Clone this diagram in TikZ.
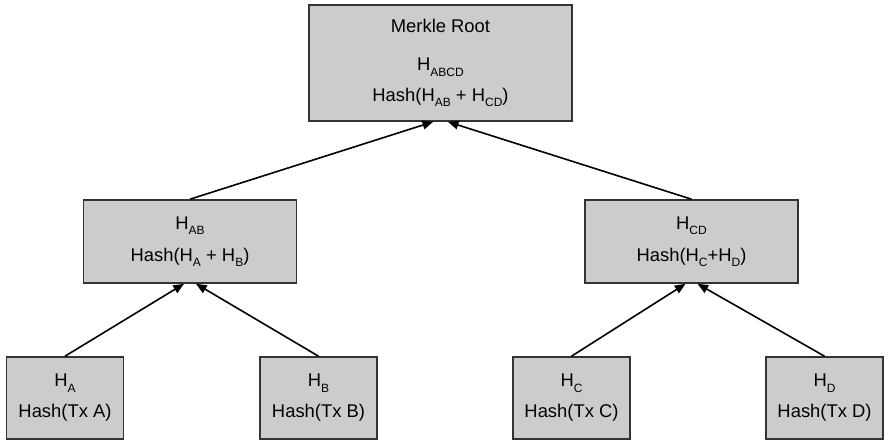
\documentclass[tikz,border=0pt]{standalone}
\usepackage{fontspec}
\setmainfont{Liberation Sans}
\usetikzlibrary{arrows.meta}
\definecolor{boxfill}{RGB}{204,204,204}
\definecolor{boxline}{RGB}{51,51,51}
\newcommand{\hsub}[1]{\raisebox{-4pt}{\fontsize{9}{9}\selectfont #1}}

\begin{document}
\begin{tikzpicture}[x=0.75pt,y=0.75pt,yscale=-1,xscale=1,
    hashbox/.style={draw=boxline, fill=boxfill, line width=1.2pt, inner sep=0pt,
        align=center, font=\fontsize{13.8}{16.5}\selectfont},
    leafbox/.style={hashbox, minimum width=87.75pt, minimum height=61.5pt},
    midbox/.style={hashbox, minimum width=160pt, minimum height=62.25pt},
    link/.style={line width=1.2pt, -{Triangle[length=8pt,width=6.5pt]}}]
    \path[use as bounding box] (0,0) rectangle (888,445);

    % Root
    \node[hashbox, minimum width=197.25pt, minimum height=87pt] (root) at (440.5,63)
        {Merkle Root\\[12.5pt] H\hsub{ABCD}\\[6.5pt] Hash(H\hsub{AB} + H\hsub{CD})};

    % Middle level
    \node[midbox] (ab) at (190,241.5) {H\hsub{AB}\\[7.5pt] Hash(H\hsub{A} + H\hsub{B})};
    \node[midbox] (cd) at (691.5,241.5) {H\hsub{CD}\\[7.5pt] Hash(H\hsub{C}+H\hsub{D})};

    % Leaves
    \node[leafbox] (ha) at (65,398) {H\hsub{A}\\[6.75pt] Hash(Tx A)};
    \node[leafbox] (hb) at (318.5,398) {H\hsub{B}\\[6.75pt] Hash(Tx B)};
    \node[leafbox] (hc) at (571.5,398) {H\hsub{C}\\[6.75pt] Hash(Tx C)};
    \node[leafbox] (hd) at (824.5,398) {H\hsub{D}\\[6.75pt] Hash(Tx D)};

    % Arrows
    \draw[link] (ha.north) -- ([xshift=-4.5pt]ab.south);
    \draw[link] (hb.north) -- ([xshift=4.5pt]ab.south);
    \draw[link] (hc.north) -- ([xshift=-4.5pt]cd.south);
    \draw[link] (hd.north) -- ([xshift=4.5pt]cd.south);
    \draw[link] (ab.north) -- ([xshift=-5.5pt]root.south);
    \draw[link] (cd.north) -- ([xshift=5.5pt]root.south);
\end{tikzpicture}
\end{document}
